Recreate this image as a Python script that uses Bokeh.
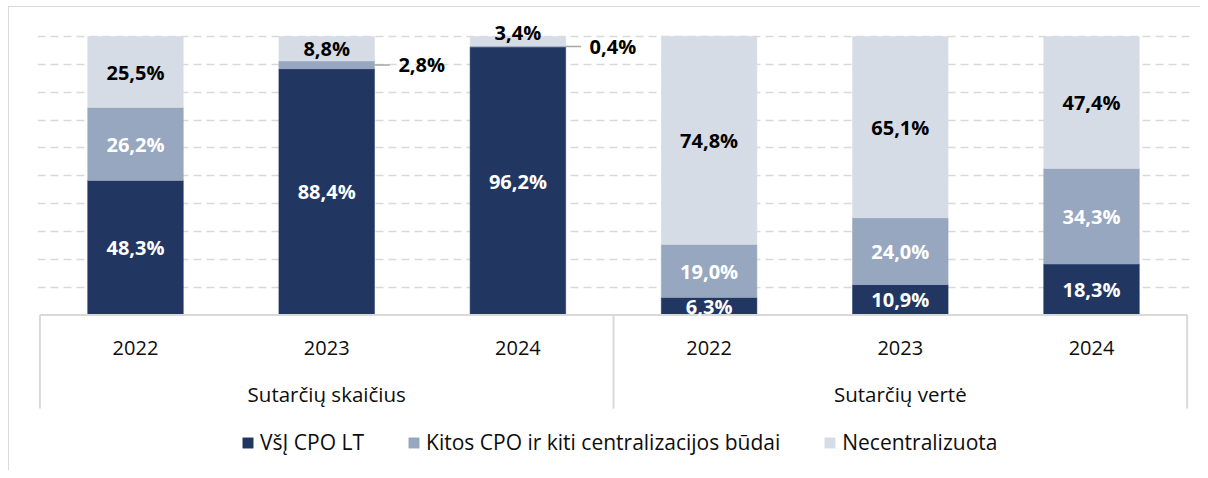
from bokeh.plotting import figure
from bokeh.models import (FactorRange, Range1d, Grid, FixedTicker, Legend,
                          LegendItem, ColumnDataSource)
from bokeh.core.properties import value
from bokeh.embed import file_html
from bokeh.resources import INLINE

# ---------------- data ----------------
groups = ["Sutarčių skaičius", "Sutarčių vertė"]
years = ["2022", "2023", "2024"]
series_names = ["VšĮ CPO LT", "Kitos CPO ir kiti centralizacijos būdai", "Necentralizuota"]
vsi_cpo_lt = [48.3, 88.4, 96.2, 6.3, 10.9, 18.3]
kitos_cpo = [26.2, 2.8, 0.4, 19.0, 24.0, 34.3]
necentralizuota = [25.5, 8.8, 3.4, 74.8, 65.1, 47.4]
grid_ticks = [10, 20, 30, 40, 50, 60, 70, 80, 90, 100]

# ---------------- styles ----------------
colors = ["#213762", "#97a7bf", "#d6dce5"]
label_colors = ["#ffffff", "#ffffff", "#000000"]
FONT = value("Open Sans")
GRAY = "#d9d9d9"

factors = [(g, y) for g in groups for y in years]
stack_keys = ["vsi", "kitos", "necentr"]
series_vals = [vsi_cpo_lt, kitos_cpo, necentralizuota]

p = figure(width=1192, height=464,
           x_range=FactorRange(factors=factors, range_padding=0.00417,
                               range_padding_units="percent",
                               group_padding=0, factor_padding=0),
           y_range=Range1d(-56.19, 107.54),
           x_axis_type=None, y_axis_type=None,
           output_backend="svg", toolbar_location=None,
           min_border_left=28, min_border_right=12,
           min_border_top=8, min_border_bottom=0,
           outline_line_color=None)
p.styles = {"margin-left": "8px", "margin-top": "6px",
            "border-top": "1px solid #d9d9d9", "border-left": "1px solid #d9d9d9"}

# grid lines
p.add_layout(Grid(dimension=1, ticker=FixedTicker(ticks=grid_ticks),
                  grid_line_color=GRAY, grid_line_dash="8 5", grid_line_width=1.3))

# stacked bars
src = ColumnDataSource(dict(x=factors, vsi=vsi_cpo_lt, kitos=kitos_cpo,
                            necentr=necentralizuota))
rs = p.vbar_stack(stack_keys, x="x", width=0.5, fill_color=colors,
                  line_color=colors, line_width=0.5, source=src)

# baseline and group separators
n = len(factors)
p.segment(x0=[0], y0=[0], x1=[n], y1=[0], line_color=GRAY, line_width=2)
sep_x = [0, len(years), n]
p.segment(x0=sep_x, y0=[0] * 3, x1=sep_x, y1=[-33.6] * 3,
          line_color=GRAY, line_width=2)

# category labels
p.text(x=factors, y=[-12.0] * n, text=[y for _, y in factors],
       text_font=FONT, text_font_size="20px", text_color="#0d0d0d",
       text_align="center", text_baseline="middle")
gx = [len(years) * (k + 0.5) for k in range(len(groups))]
p.text(x=gx, y=[-28.2] * len(groups), text=groups,
       text_font=FONT, text_font_size="20.5px", text_color="#0d0d0d",
       text_align="center", text_baseline="middle")

# value labels
fmt = lambda v: f"{v:.1f}%".replace(".", ",")
in_x, in_y, in_t, in_c = [], [], [], []
out_x, out_y, out_t = [], [], []
ld_x0, ld_x1, ld_y = [], [], []
top_x, top_y, top_t = [], [], []
for i in range(n):
    cum = 0.0
    for s, vals in enumerate(series_vals):
        v = vals[i]
        mid = cum + v / 2
        cx = i + 0.5
        if v >= 5:
            in_x.append(cx); in_y.append(mid); in_t.append(fmt(v)); in_c.append(label_colors[s])
        elif s == len(series_vals) - 1:
            top_x.append(cx); top_y.append(cum + v + 1.4); top_t.append(fmt(v))
        else:
            edge = cx + 0.25
            ld_x0.append(edge); ld_x1.append(edge + 0.08); ld_y.append(mid)
            out_x.append(edge + 0.125); out_y.append(mid); out_t.append(fmt(v))
        cum += v

p.text(x=in_x, y=in_y, text=in_t, text_color=in_c, text_font=FONT,
       text_font_style="bold", text_font_size="20px",
       text_align="center", text_baseline="middle")
p.text(x=top_x, y=top_y, text=top_t, text_color="#000000", text_font=FONT,
       text_font_style="bold", text_font_size="20px",
       text_align="center", text_baseline="middle")
p.segment(x0=ld_x0, y0=ld_y, x1=ld_x1, y1=ld_y, line_color="#a6a6a6", line_width=1.5)
p.text(x=out_x, y=out_y, text=out_t, text_color="#000000", text_font=FONT,
       text_font_style="bold", text_font_size="20px",
       text_align="left", text_baseline="middle")

# legend
legend = Legend(items=[LegendItem(label=name, renderers=[r])
                       for name, r in zip(series_names, rs)],
                orientation="horizontal", location=(204, 15),
                glyph_width=13, glyph_height=13, label_standoff=6, spacing=43,
                label_text_font="Open Sans", label_text_font_size="21px",
                label_text_color="#0d0d0d", label_height=20,
                border_line_color=None, background_fill_alpha=0,
                padding=0, margin=0)
p.add_layout(legend)

open("out.html", "w").write(file_html(p, INLINE))
